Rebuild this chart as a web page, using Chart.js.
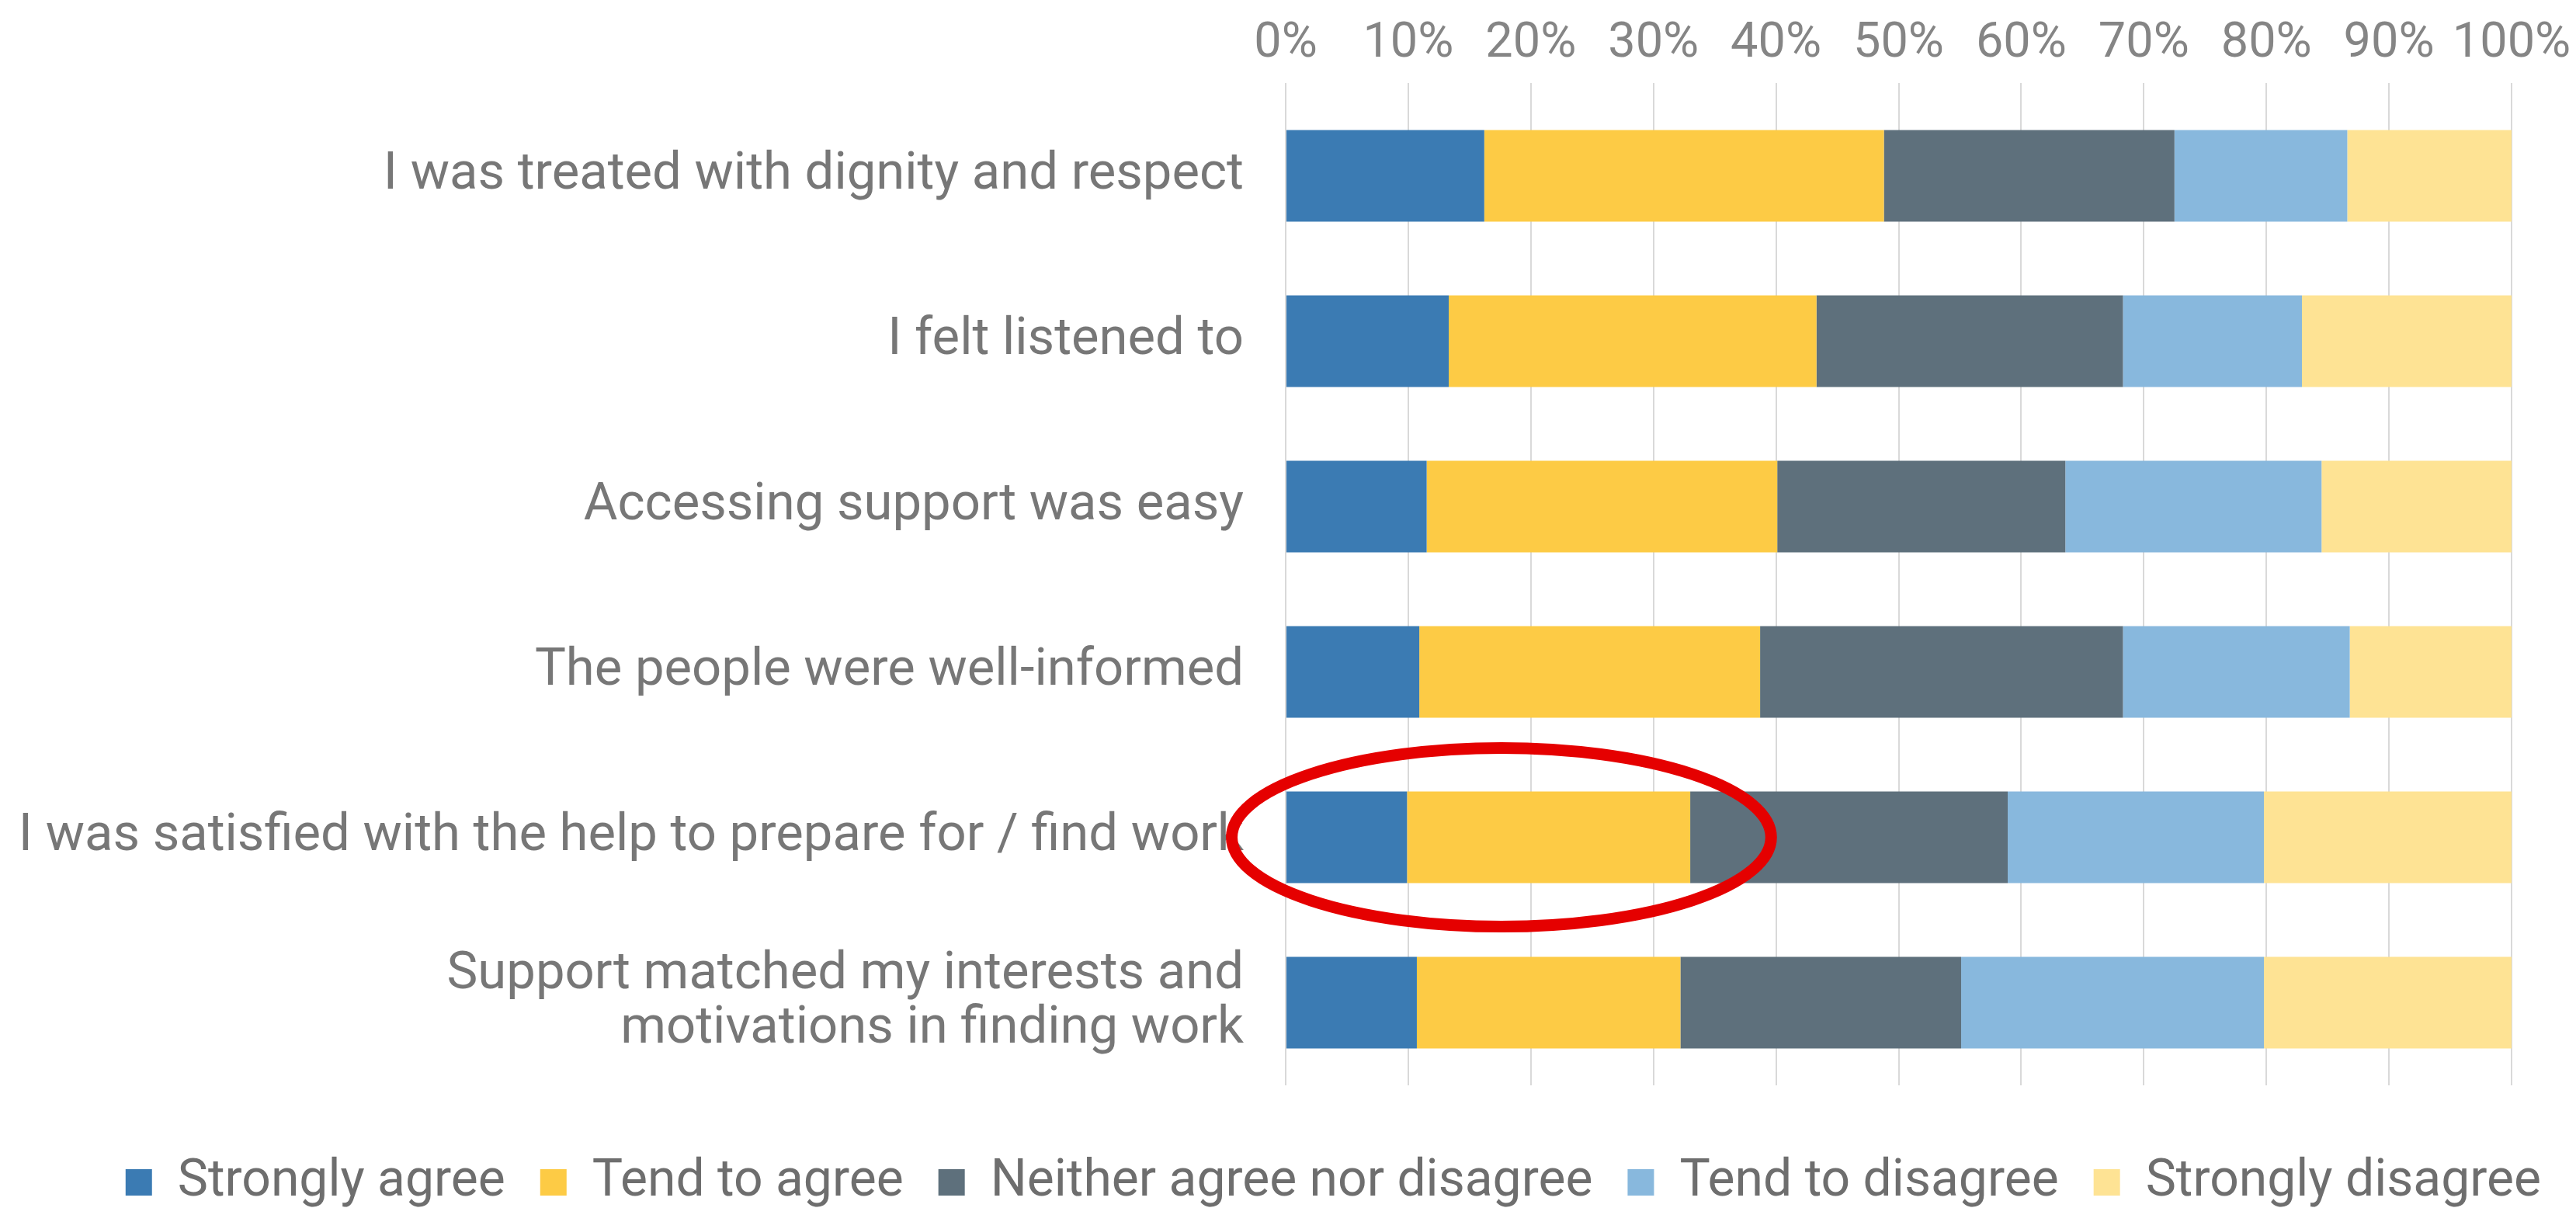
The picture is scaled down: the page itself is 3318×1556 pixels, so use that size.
<!DOCTYPE html>
<html>
<head>
<meta charset="utf-8">
<title>Employment support survey</title>
<script src="https://cdn.jsdelivr.net/npm/chart.js@4/dist/chart.umd.min.js"></script>
<style>
  html, body { margin: 0; padding: 0; background: #ffffff; }
  canvas { display: block; }
</style>
</head>
<body>
<canvas id="surveyChart" width="3318" height="1556"></canvas>
<script>
const statements = [
  'I was treated with dignity and respect',
  'I felt listened to',
  'Accessing support was easy',
  'The people were well-informed',
  'I was satisfied with the help to prepare for / find work',
  ['Support matched my interests and', 'motivations in finding work']
];

const responseLabels = ['Strongly agree', 'Tend to agree', 'Neither agree nor disagree', 'Tend to disagree', 'Strongly disagree'];

// share of respondents (%) per statement
const stronglyAgree    = [16.2, 13.3, 11.5, 10.9,  9.9, 10.7];
const tendToAgree      = [32.6, 30.0, 28.6, 27.8, 23.1, 21.5];
const neitherNor       = [23.7, 25.0, 23.5, 29.6, 25.9, 22.9];
const tendToDisagree   = [14.1, 14.6, 20.9, 18.5, 20.9, 24.7];
const stronglyDisagree = [13.4, 17.1, 15.5, 13.2, 20.2, 20.2];

const percentTicks = [0, 10, 20, 30, 40, 50, 60, 70, 80, 90, 100];

const colors = ['#3b7bb3', '#fdcb45', '#5e707c', '#88b8dd', '#fee394'];

// red ring around the agree share of the "prepare for / find work" row
const highlight = { row: 4, from: -4.4, to: 39.6, halfRows: 0.54 };

const ringPlugin = {
  id: 'ring',
  afterDraw(chart) {
    const x = chart.scales.x;
    const y = chart.scales.y;
    const left = x.getPixelForValue(highlight.from);
    const right = x.getPixelForValue(highlight.to);
    const top = y.getPixelForValue(highlight.row - highlight.halfRows);
    const bottom = y.getPixelForValue(highlight.row + highlight.halfRows);
    const ctx = chart.ctx;
    ctx.save();
    ctx.beginPath();
    ctx.ellipse((left + right) / 2, (top + bottom) / 2, (right - left) / 2, (bottom - top) / 2, 0, 0, Math.PI * 2);
    ctx.lineWidth = 15;
    ctx.strokeStyle = '#e50000';
    ctx.stroke();
    ctx.restore();
  }
};

const series = [stronglyAgree, tendToAgree, neitherNor, tendToDisagree, stronglyDisagree];

new Chart(document.getElementById('surveyChart'), {
  type: 'bar',
  data: {
    labels: statements,
    datasets: series.map((values, i) => ({
      label: responseLabels[i],
      data: values,
      backgroundColor: colors[i],
      borderWidth: 0,
      barPercentage: 0.555,
      categoryPercentage: 1
    }))
  },
  options: {
    indexAxis: 'y',
    responsive: false,
    animation: false,
    devicePixelRatio: 1,
    layout: { padding: { top: 12, left: 0, right: 0, bottom: -10 } },
    scales: {
      x: {
        position: 'top',
        stacked: true,
        min: 0,
        max: 100,
        afterBuildTicks(scale) {
          scale.ticks = percentTicks.map(v => ({ value: v }));
        },
        afterFit(scale) {
          scale.height = 108;
          scale.paddingRight = 83;
        },
        grid: { color: '#d9d9d9', lineWidth: 2, drawTicks: true, tickLength: 13 },
        border: { display: false },
        ticks: {
          padding: 12,
          color: '#858585',
          font: { family: 'Roboto', size: 63 },
          callback: value => value + '%'
        }
      },
      gap: {
        type: 'linear',
        axis: 'x',
        position: 'bottom',
        display: true,
        grid: { display: false },
        border: { display: false },
        ticks: { display: false },
        afterFit(scale) {
          scale.height = 47;
        }
      },
      y: {
        stacked: true,
        afterFit(scale) {
          scale.width = 1656;
        },
        grid: { display: false },
        border: { display: false },
        ticks: {
          padding: 46,
          color: '#777777',
          font: { family: 'Roboto', size: 67, lineHeight: 1.05 }
        }
      }
    },
    plugins: {
      tooltip: { enabled: false },
      legend: {
        position: 'bottom',
        align: 'end',
        labels: {
          boxWidth: 34,
          boxHeight: 34,
          padding: 45,
          color: '#6e6e6e',
          font: { family: 'Roboto', size: 66 }
        }
      }
    }
  },
  plugins: [ringPlugin]
});
</script>
</body>
</html>
